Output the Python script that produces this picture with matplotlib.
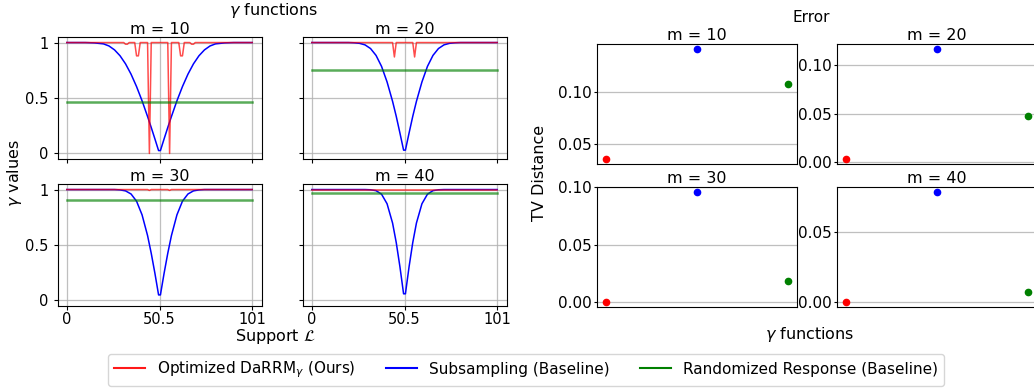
import matplotlib
matplotlib.use("Agg")
import matplotlib.pyplot as plt

# --- DATA ---
m_values = [10, 20, 30, 40]

# support points of the gamma functions (K = 101 voters)
support = [0, 10, 15, 20, 23, 26, 29, 32, 35, 38, 41, 44, 46, 48, 50,
           51, 53, 55, 57, 60, 63, 66, 69, 72, 75, 78, 81, 86, 91, 101]

sub_m10 = [1.0, 1.0, 0.997, 0.988, 0.969, 0.934, 0.881, 0.808, 0.715, 0.603, 0.475, 0.333, 0.234, 0.131, 0.026,
           0.026, 0.131, 0.234, 0.333, 0.475, 0.603, 0.715, 0.808, 0.881, 0.934, 0.969, 0.988, 0.997, 1.0, 1.0]
sub_m20 = [1.0, 1.0, 1.0, 1.0, 0.998, 0.993, 0.979, 0.946, 0.884, 0.785, 0.645, 0.470, 0.335, 0.185, 0.030,
           0.030, 0.185, 0.335, 0.470, 0.645, 0.785, 0.884, 0.946, 0.979, 0.993, 0.998, 1.0, 1.0, 1.0, 1.0]
sub_m30 = [1.0, 1.0, 1.0, 1.0, 1.0, 1.0, 0.997, 0.988, 0.960, 0.895, 0.772, 0.585, 0.425, 0.245, 0.050,
           0.050, 0.245, 0.425, 0.585, 0.772, 0.895, 0.960, 0.988, 0.997, 1.0, 1.0, 1.0, 1.0, 1.0, 1.0]
sub_m40 = [1.0, 1.0, 1.0, 1.0, 1.0, 1.0, 1.0, 0.998, 0.990, 0.958, 0.872, 0.698, 0.522, 0.305, 0.060,
           0.060, 0.305, 0.522, 0.698, 0.872, 0.958, 0.990, 0.998, 1.0, 1.0, 1.0, 1.0, 1.0, 1.0, 1.0]

# optimized DaRRM gamma (only the points where it leaves 1)
opt_x_m10 = [0, 31, 32, 33, 34, 37, 38, 39, 40, 44, 45, 46, 55, 56, 57, 61, 62, 63, 64, 67, 68, 69, 70, 101]
opt_m10 = [1, 1, 0.985, 0.985, 1, 1, 0.88, 0.88, 1, 1, 0.0, 1, 1, 0.0, 1, 1, 0.88, 0.88, 1, 1, 0.985, 0.985, 1, 1]
opt_x_m20 = [0, 44, 45, 46, 55, 56, 57, 101]
opt_m20 = [1, 1, 0.87, 1, 1, 0.87, 1, 1]
opt_x_m30 = [0, 44, 45, 46, 55, 56, 57, 101]
opt_m30 = [1, 1, 0.992, 1, 1, 0.992, 1, 1]
opt_x_m40 = [0, 101]
opt_m40 = [1, 1]

# randomized response: constant gamma
rr_gamma = [0.465, 0.755, 0.906, 0.966]

# TV distance errors
tv_opt = [0.0356, 0.0040, 0.0003, 0.0002]
tv_sub = [0.1408, 0.1155, 0.0956, 0.0786]
tv_rr = [0.1072, 0.0473, 0.0186, 0.0071]

sub_curves = [sub_m10, sub_m20, sub_m30, sub_m40]
opt_xs = [opt_x_m10, opt_x_m20, opt_x_m30, opt_x_m40]
opt_curves = [opt_m10, opt_m20, opt_m30, opt_m40]

W, H = 1034, 389
fig = plt.figure(figsize=(W / 100, H / 100), dpi=100)


def px_axes(x0, y0, x1, y1):
    # pixel box (top-left origin) -> figure axes
    return fig.add_axes([x0 / W, 1 - y1 / H, (x1 - x0) / W, (y1 - y0) / H])


left_boxes = [(57.5, 37, 261.5, 159), (302.5, 37, 506.5, 159),
              (57.5, 184, 261.5, 306), (302.5, 184, 506.5, 306)]
right_boxes = [(597, 44, 797, 164), (837, 44, 1037, 164),
               (597, 187, 797, 307), (837, 187, 1037, 307)]

# --- LEFT: gamma functions ---
for i, m in enumerate(m_values):
    ax = px_axes(*left_boxes[i])
    ax.plot(support, sub_curves[i], color="blue", lw=1.1)
    ax.plot(opt_xs[i], opt_curves[i], color="red", lw=1.1, alpha=0.7)
    ax.plot([support[0], support[-1]], [rr_gamma[i], rr_gamma[i]], color="green", lw=1.8, alpha=0.65)
    ax.set_title(f"m = {m}", fontsize=11.5, pad=2.5)
    ax.set_xticks([0, 50.5, 101])
    ax.set_yticks([0, 0.5, 1])
    ax.set_ylim(-0.05, 1.05)
    ax.grid(True, color="#b0b0b0", lw=0.9, alpha=0.8)
    ax.tick_params(labelsize=10.5, length=3)
    ax.tick_params(axis="x", pad=1)
    if i < 2:
        ax.set_xticklabels([])
    else:
        ax.set_xticklabels(["0", "50.5", "101"])
    if i % 2 == 1:
        ax.set_yticklabels([])
    else:
        ax.set_yticklabels(["0", "0.5", "1"])

fig.text(274 / W, 1 - 10 / H, r"$\gamma$ functions", ha="center", va="center", fontsize=11.5)
fig.text(15 / W, 1 - 173 / H, r"$\gamma$ values", ha="center", va="center", rotation=90, fontsize=11.5)
fig.text(275 / W, 1 - 336 / H, r"Support $\mathcal{L}$", ha="center", va="center", fontsize=11.5)

# --- RIGHT: TV distance error ---
for i, m in enumerate(m_values):
    ax = px_axes(*right_boxes[i])
    ax.plot([0], [tv_opt[i]], "o", color="red", ms=4.5)
    ax.plot([1], [tv_sub[i]], "o", color="blue", ms=4.5)
    ax.plot([2], [tv_rr[i]], "o", color="green", ms=4.5)
    ax.set_xticks([])
    ax.grid(True, axis="y", color="#b0b0b0", lw=0.9, alpha=0.8)
    ax.set_title(f"m = {m}", fontsize=11.5, pad=3)
    ax.tick_params(labelsize=11, length=2.5, pad=1.5)

fig.text(811 / W, 1 - 17 / H, "Error", ha="center", va="center", fontsize=11)
fig.text(539 / W, 1 - 173 / H, "TV Distance", ha="center", va="center", rotation=90, fontsize=11.5)
fig.text(810 / W, 1 - 335 / H, r"$\gamma$ functions", ha="center", va="center", fontsize=11.5)

# --- shared legend ---
handles = [
    plt.Line2D([], [], color="red", lw=1.5, alpha=0.9),
    plt.Line2D([], [], color="blue", lw=1.5),
    plt.Line2D([], [], color="green", lw=1.5),
]
labels = [r"Optimized DaRRM$_\gamma$ (Ours)", "Subsampling (Baseline)", "Randomized Response (Baseline)"]
fig.legend(handles, labels, loc="center", bbox_to_anchor=(526 / W, 1 - 370 / H), ncol=3, fontsize=11)

fig.savefig("out.png", dpi=100)
